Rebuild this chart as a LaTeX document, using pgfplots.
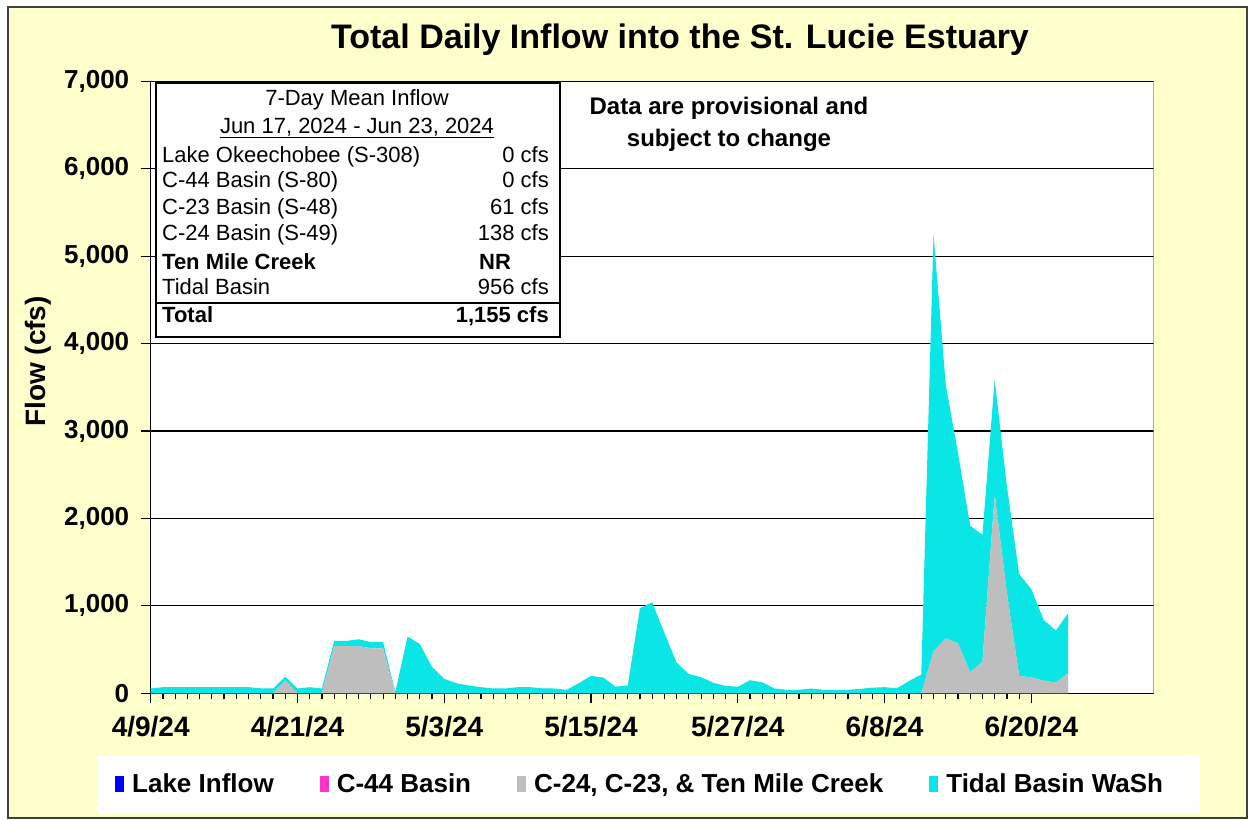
\documentclass[border=0pt]{standalone}
\usepackage{pgfplots}
\pgfplotsset{compat=1.18}
\usepackage{pgfplotstable}
\usepackage{fontspec}
\setmainfont{Liberation Sans}
\definecolor{bgyellow}{HTML}{FFFFCC}
\definecolor{tidal}{HTML}{0AE6E6}
\definecolor{basin}{HTML}{BEBEBE}
\definecolor{lake}{HTML}{0000FF}
\definecolor{cfour}{HTML}{FF33CC}

\pgfplotstableread{
day gray tidal
0 0 55
1 0 70
2 0 70
3 0 70
4 0 70
5 0 70
6 0 70
7 0 70
8 0 70
9 0 57
10 0 55
11 150 40
12 0 55
13 0 70
14 0 55
15 540 60
16 540 60
17 540 78
18 515 70
19 515 70
20 0 15
21 0 650
22 0 565
23 0 300
24 0 165
25 0 115
26 0 90
27 0 70
28 0 55
29 0 55
30 0 70
31 0 70
32 0 57
33 0 55
34 0 40
35 0 115
36 0 200
37 0 180
38 0 75
39 0 90
40 0 975
41 0 1040
42 0 690
43 0 350
44 0 220
45 0 185
46 0 120
47 0 85
48 0 75
49 0 150
50 0 125
51 0 55
52 0 40
53 0 40
54 0 55
55 0 40
56 0 40
57 0 40
58 0 50
59 0 65
60 0 70
61 0 57
62 0 140
63 0 215
64 477 4773
65 630 2900
66 573 2177
67 240 1676
68 363 1450
69 2271 1317
70 1145 1221
71 198 1165
72 183 1007
73 145 695
74 122 596
75 229 687
}\flowdata

\begin{document}
\begin{tikzpicture}[x=1bp,y=1bp]
\fill[white] (0,0) rectangle (1250,820);
\filldraw[fill=bgyellow, draw=black!75, line width=1.5bp] (8,2) rectangle (1247,813);
\fill[white] (97,7) rectangle (1200,64);

\begin{axis}[
  at={(150.7bp,126.7bp)}, anchor=south west,
  scale only axis, width=1003bp, height=612bp,
  axis background/.style={fill=white},
  xmin=0, xmax=82, ymin=0, ymax=7000,
  stack plots=y,
  axis lines=left, axis line style={-, black, line width=1.5bp},
  tick align=outside,
  xtick={0,12,...,72},
  xticklabels={4/9/24,4/21/24,5/3/24,5/15/24,5/27/24,6/8/24,6/20/24},
  minor x tick num=11,
  ytick={0,1000,...,7000},
  major tick length=10bp, minor tick length=6bp,
  tick style={black, line width=1.2bp},
  ymajorgrids, major grid style={black, line width=1.2bp},
  /pgf/number format/assume math mode=true,
  yticklabel style={font=\fontsize{26bp}{26bp}\selectfont\bfseries, /pgf/number format/1000 sep={,}, xshift=-8bp},
  xticklabel style={font=\fontsize{28bp}{28bp}\selectfont\bfseries, yshift=-9bp},
  legend columns=4,
  legend image code/.code={\fill[#1, draw=none] (0bp,-8bp) rectangle (9bp,8bp);},
  legend style={draw=none, fill=none, at={(-0.0356,-0.148)}, anchor=west, inner sep=0pt,
    font=\fontsize{26bp}{26bp}\selectfont\bfseries,
    nodes={inner sep=0pt},
    /tikz/every odd column/.append style={column sep=8bp},
    /tikz/every even column/.append style={column sep=46bp}},
]
\addlegendimage{fill=lake, draw=none}
\addlegendentry{Lake Inflow}
\addlegendimage{fill=cfour, draw=none}
\addlegendentry{C-44 Basin}
\addplot[fill=basin, draw=none] table[x=day, y=gray] {\flowdata} \closedcycle;
\addlegendentry{C-24, C-23, \& Ten Mile Creek}
\addplot[fill=tidal, draw=none] table[x=day, y=tidal] {\flowdata} \closedcycle;
\addlegendentry{Tidal Basin WaSh}
\draw[black!50, line width=2bp] (rel axis cs:1,0) -- (rel axis cs:1,1);
\end{axis}

\node[font=\fontsize{34bp}{34bp}\selectfont\bfseries] at (680,780) {Total Daily Inflow into the St. Lucie Estuary};
\node[rotate=90, font=\fontsize{28bp}{28bp}\selectfont\bfseries] at (38,458.5) {Flow (cfs)};
\node[align=center, font=\fontsize{24bp}{32bp}\selectfont\bfseries] at (729,696) {Data are provisional and\\subject to change};

% inset table
\filldraw[fill=white, draw=black, line width=1.5bp] (156,737) rectangle (560,483);
\begin{scope}[every node/.style={font=\fontsize{22bp}{26bp}\selectfont, inner sep=0pt}]
\node at (357,720) {7-Day Mean Inflow};
\node at (357,692) {\underline{Jun 17, 2024 - Jun 23, 2024}};
\node[anchor=mid west] at (162,660) {Lake Okeechobee (S-308)};
\node[anchor=mid east] at (549,660) {0 cfs};
\node[anchor=mid west] at (162,635) {C-44 Basin (S-80)};
\node[anchor=mid east] at (549,635) {0 cfs};
\node[anchor=mid west] at (162,608) {C-23 Basin (S-48)};
\node[anchor=mid east] at (549,608) {61 cfs};
\node[anchor=mid west] at (162,582) {C-24 Basin (S-49)};
\node[anchor=mid east] at (549,582) {138 cfs};
\node[anchor=mid west, font=\fontsize{22bp}{26bp}\selectfont\bfseries] at (162,553) {Ten Mile Creek};
\node[anchor=mid, font=\fontsize{22bp}{26bp}\selectfont\bfseries] at (495,553) {NR};
\node[anchor=mid west] at (162,528) {Tidal Basin};
\node[anchor=mid east] at (549,528) {956 cfs};
\node[anchor=mid west, font=\fontsize{22bp}{26bp}\selectfont\bfseries] at (162,500) {Total};
\node[anchor=mid east, font=\fontsize{22bp}{26bp}\selectfont\bfseries] at (549,500) {1,155 cfs};
\end{scope}
\draw[black, line width=2.5bp] (156,517) -- (560,517);
\pgfresetboundingbox
\path[use as bounding box] (0,0) rectangle (1250,820);
\end{tikzpicture}
\end{document}
